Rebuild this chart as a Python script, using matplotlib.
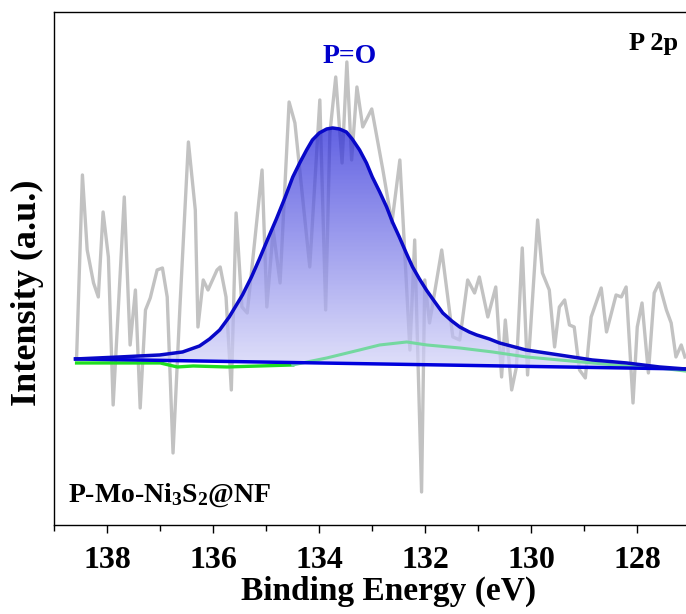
import numpy as np
import matplotlib
matplotlib.use("Agg")
import matplotlib.pyplot as plt
from matplotlib.colors import LinearSegmentedColormap
from matplotlib.ticker import MultipleLocator

plt.rcParams['font.family'] = 'Liberation Serif'
plt.rcParams['font.weight'] = 'bold'
plt.rcParams['axes.labelweight'] = 'bold'
plt.rcParams['mathtext.default'] = 'regular'

# raw P 2p spectrum (binding energy in eV, intensity in a.u.)
be_raw = [138.58, 138.47, 138.38, 138.26, 138.17, 138.08, 137.98, 137.89, 137.68, 137.57,
          137.47, 137.38, 137.28, 137.19, 137.06, 136.96, 136.87, 136.76, 136.63, 136.47,
          136.34, 136.29, 136.19, 136.10, 135.93, 135.87, 135.76, 135.66, 135.57, 135.46,
          135.36, 135.25, 135.08, 134.99, 134.87, 134.74, 134.57, 134.46, 134.33, 134.18,
          133.99, 133.88, 133.80, 133.69, 133.57, 133.48, 133.39, 133.29, 133.18, 133.01,
          132.80, 132.63, 132.48, 132.29, 132.20, 132.07, 132.01, 131.92, 131.69, 131.48,
          131.35, 131.20, 131.07, 130.98, 130.82, 130.67, 130.56, 130.49, 130.37, 130.28,
          130.17, 130.07, 129.88, 129.79, 129.66, 129.56, 129.47, 129.37, 129.28, 129.19,
          129.09, 128.98, 128.87, 128.68, 128.58, 128.40, 128.30, 128.21, 128.08, 128.00,
          127.91, 127.79, 127.68, 127.59, 127.45, 127.36, 127.27, 127.17, 127.10]
int_raw = [169, 352, 277, 244, 230, 315, 270, 122, 330, 182,
           237, 119, 217, 229, 257, 259, 230, 74, 220, 385,
           317, 200, 247, 237, 257, 260, 230, 137, 314, 220,
           214, 270, 357, 220, 297, 244, 425, 404, 337, 260,
           427, 217, 394, 450, 364, 465, 367, 440, 400, 418,
           357, 304, 367, 177, 287, 35, 247, 204, 277, 190,
           187, 247, 234, 250, 210, 240, 150, 207, 137, 160,
           279, 152, 307, 254, 237, 180, 220, 227, 202, 200,
           157, 149, 210, 239, 195, 232, 230, 240, 124, 200,
           224, 154, 234, 244, 217, 204, 170, 182, 170]

# fitted P=O envelope
be_fit = [138.60, 137.77, 137.01, 136.58, 136.26, 136.07, 135.88, 135.70, 135.45, 135.28,
          135.13, 134.98, 134.81, 134.65, 134.50, 134.37, 134.24, 134.13, 134.00, 133.86,
          133.75, 133.62, 133.49, 133.38, 133.24, 133.11, 133.00, 132.86, 132.73, 132.62,
          132.49, 132.36, 132.24, 132.11, 131.98, 131.82, 131.67, 131.50, 131.35, 131.17,
          131.03, 130.79, 130.60, 130.10, 129.47, 128.85, 128.20, 127.58, 127.09]
int_fit = [168, 170, 172, 175, 181, 188, 197, 210, 232, 250,
           268, 287, 308, 329, 350, 364, 377, 387, 394, 398,
           399, 398, 395, 388, 377, 364, 350, 335, 320, 305,
           290, 274, 260, 248, 237, 225, 214, 206, 200, 195,
           192, 188, 184, 177, 172, 167, 164, 160, 158]

# background
be_bg = [138.60, 127.09]
int_bg = [168, 158]

# second (minor) component
be_comp = [138.58, 137.00, 136.68, 136.38, 135.74, 134.50, 134.23, 133.86, 133.24, 132.86,
           132.35, 131.97, 131.35, 130.73, 130.09, 129.47, 128.85, 128.21, 127.59, 127.10]
int_comp = [164, 164, 160, 161, 160, 162, 165, 169, 177, 182,
            185, 182, 179, 175, 170, 167, 164, 161, 159, 156]
split = 5

fig = plt.figure(figsize=(6.86, 6.14), dpi=100)
ax = fig.add_axes([0.0792, 0.145, 0.927, 0.8355])

ax.plot(be_raw, int_raw, color='#c2c2c2', lw=2.4, zorder=1)

poly = ax.fill(be_fit, int_fit, facecolor='none', edgecolor='none')[0]
cmap = LinearSegmentedColormap.from_list('pfill', ['#d4d4f8', '#2424d8'])
grad = np.linspace(0, 1, 256).reshape(-1, 1)
im = ax.imshow(grad, cmap=cmap, origin='lower', aspect='auto', alpha=0.72,
               extent=[138.6, 127.1, 160, 400], zorder=2)
im.set_clip_path(poly)

ax.plot(be_comp[:split + 1], int_comp[:split + 1], color='#20dd20', lw=2.4, zorder=3)
ax.plot(be_comp[split:], int_comp[split:], color='#74d8a0', lw=2.2, zorder=3)
ax.plot(be_bg, int_bg, color='#0000dd', lw=2.5, zorder=4)
ax.plot(be_fit, int_fit, color='#0808c8', lw=2.5, zorder=5, solid_joinstyle='round')

ax.set_xlim(139, 127)
ax.set_ylim(2, 515)
ax.xaxis.set_major_locator(MultipleLocator(2))
ax.xaxis.set_minor_locator(MultipleLocator(1))
ax.set_yticks([])
ax.spines['right'].set_visible(False)
for s in ['left', 'top', 'bottom']:
    ax.spines[s].set_linewidth(1.0)
ax.tick_params(axis='x', which='major', direction='out', length=6, width=1.0,
               labelsize=23, pad=9)
ax.tick_params(axis='x', which='minor', direction='out', length=4, width=1.0)

ax.set_xlabel('Binding Energy (eV)', fontsize=24)
ax.xaxis.set_label_coords(0.526, -0.099)
ax.set_ylabel('Intensity (a.u.)', fontsize=26)
ax.yaxis.set_label_coords(-0.016, 0.452)

ax.text(0.465, 0.90, 'P=O', color='#0000cc', fontsize=20, ha='center', va='baseline',
        transform=ax.transAxes)
ax.text(0.981, 0.926, 'P 2p', color='black', fontsize=19, ha='right', va='baseline',
        transform=ax.transAxes)
ax.text(0.0215, 0.045, 'P-Mo-Ni$_3$S$_2$@NF', color='black', fontsize=20, ha='left',
        va='baseline', transform=ax.transAxes)

fig.savefig('out.png', dpi=100)
